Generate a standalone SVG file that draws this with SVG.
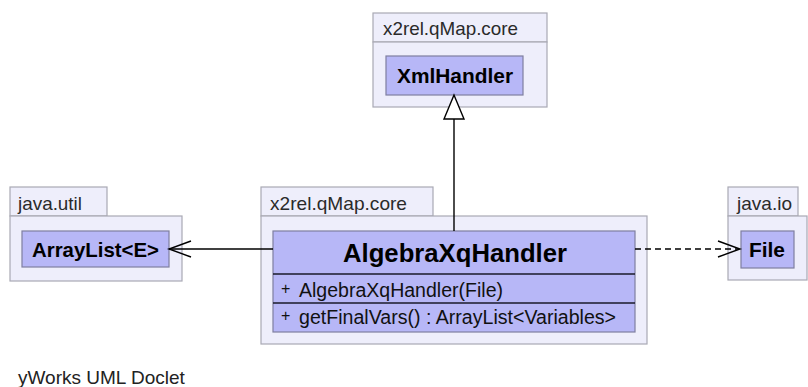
<svg xmlns="http://www.w3.org/2000/svg" width="808" height="387" viewBox="0 0 808 387">
  <style>
    .pkg { fill: #eeeefb; stroke: #a9a9b4; stroke-width: 1.2; }
    .cls { fill: #b7b7f7; stroke: #7f7fa0; stroke-width: 1.2; }
    .sep { stroke: #1a1a2a; stroke-width: 1.6; }
    .tab { font-family: "Liberation Sans", Arial, sans-serif; font-size: 19px; fill: #2a2a2a; }
    .name { font-family: "Liberation Sans", Arial, sans-serif; font-size: 20.5px; font-weight: bold; fill: #000; }
    .big { font-family: "Liberation Sans", Arial, sans-serif; font-size: 25.5px; font-weight: bold; fill: #000; }
    .mem { font-family: "Liberation Sans", Arial, sans-serif; font-size: 19.5px; fill: #111; }
    .vis { font-family: "Liberation Sans", Arial, sans-serif; font-size: 16px; fill: #111; }
    .foot { font-family: "Liberation Sans", Arial, sans-serif; font-size: 19px; fill: #222; }
    .edge { fill: none; stroke: #000; stroke-width: 1.4; }
  </style>
  <rect width="808" height="387" fill="#ffffff"/>

  <!-- package x2rel.qMap.core (top) -->
  <g id="pkg-core-top">
    <rect class="pkg" x="373" y="13" width="174" height="29"/>
    <rect class="pkg" x="373" y="42" width="174" height="65"/>
    <text class="tab" x="383" y="34.5" textLength="135" lengthAdjust="spacingAndGlyphs">x2rel.qMap.core</text>
  </g>
  <g id="XmlHandler">
    <rect class="cls" x="386" y="56" width="137" height="39"/>
    <text class="name" x="397" y="83" textLength="116" lengthAdjust="spacingAndGlyphs">XmlHandler</text>
  </g>

  <!-- package java.util -->
  <g id="pkg-java-util">
    <rect class="pkg" x="10" y="187" width="97" height="29"/>
    <rect class="pkg" x="10" y="216" width="172" height="65"/>
    <text class="tab" x="18" y="210" textLength="64" lengthAdjust="spacingAndGlyphs">java.util</text>
  </g>
  <g id="ArrayList">
    <rect class="cls" x="22" y="231" width="147" height="36"/>
    <text class="name" x="32" y="257" textLength="127" lengthAdjust="spacingAndGlyphs">ArrayList&lt;E&gt;</text>
  </g>

  <!-- package x2rel.qMap.core (main) -->
  <g id="pkg-core-main">
    <rect class="pkg" x="261" y="187" width="172" height="29"/>
    <rect class="pkg" x="261" y="216" width="386" height="128"/>
    <text class="tab" x="270" y="209.5" textLength="137" lengthAdjust="spacingAndGlyphs">x2rel.qMap.core</text>
  </g>
  <g id="AlgebraXqHandler">
    <rect class="cls" x="273" y="231" width="362" height="101"/>
    <line class="sep" x1="273" y1="274" x2="635" y2="274"/>
    <line class="sep" x1="273" y1="303" x2="635" y2="303"/>
    <text class="big" x="343" y="262" textLength="224" lengthAdjust="spacingAndGlyphs">AlgebraXqHandler</text>
    <text class="vis" x="281" y="294">+</text>
    <text class="mem" x="299" y="296.5" textLength="204" lengthAdjust="spacingAndGlyphs">AlgebraXqHandler(File)</text>
    <text class="vis" x="281" y="321">+</text>
    <text class="mem" x="299" y="323.5" textLength="317" lengthAdjust="spacingAndGlyphs">getFinalVars() : ArrayList&lt;Variables&gt;</text>
  </g>

  <!-- package java.io -->
  <g id="pkg-java-io">
    <rect class="pkg" x="728" y="187" width="70" height="29"/>
    <rect class="pkg" x="728" y="216" width="79" height="64"/>
    <text class="tab" x="737" y="209.5" textLength="55" lengthAdjust="spacingAndGlyphs">java.io</text>
  </g>
  <g id="File">
    <rect class="cls" x="741" y="231" width="53" height="37"/>
    <text class="name" x="749" y="257" textLength="36" lengthAdjust="spacingAndGlyphs">File</text>
  </g>

  <!-- connectors -->
  <g id="connectors">
    <!-- generalization to XmlHandler -->
    <line class="edge" x1="454" y1="231" x2="454" y2="119"/>
    <polygon points="454,95 444,119 464,119" fill="#ffffff" stroke="#000" stroke-width="1.4"/>
    <!-- association to ArrayList -->
    <line class="edge" x1="273" y1="249" x2="169" y2="249"/>
    <polyline class="edge" points="191,241 169,249 191,257"/>
    <!-- dependency to File -->
    <line class="edge" x1="635" y1="249" x2="739" y2="249" stroke-dasharray="6,4"/>
    <polyline class="edge" points="718,241 740,249 718,257"/>
  </g>

  <text class="foot" x="18" y="384">yWorks UML Doclet</text>
</svg>
